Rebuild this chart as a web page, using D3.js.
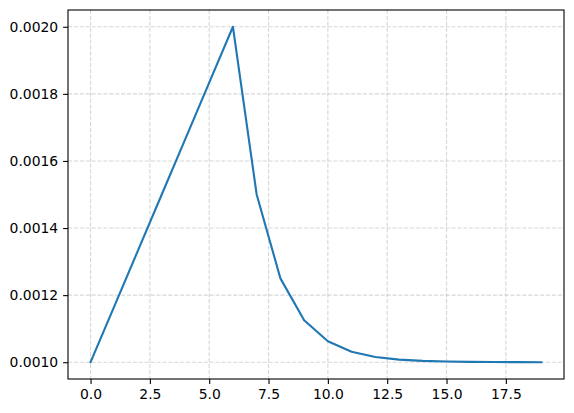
<!DOCTYPE html>
<html>
<head>
<meta charset="utf-8">
<script src="https://cdn.jsdelivr.net/npm/d3@7"></script>
<style>
  body { margin: 0; background: #fff; }
  text { font-family: "DejaVu Sans", sans-serif; }
</style>
</head>
<body>
<div id="chart"></div>
<script>
(function() {

    // values
    const steps = [0, 1, 2, 3, 4, 5, 6, 7, 8, 9, 10, 11, 12, 13, 14, 15, 16, 17, 18, 19]
    const rates = [0.001, 0.0011667, 0.0013333, 0.0015, 0.0016667, 0.0018333, 0.002,
                   0.0015, 0.00125, 0.001125, 0.0010625, 0.0010313, 0.0010156, 0.0010078,
                   0.0010039, 0.001002, 0.001001, 0.0010005, 0.0010002, 0.0010001]
    const xTicks = [0, 2.5, 5, 7.5, 10, 12.5, 15, 17.5]
    const yTicks = [0.001, 0.0012, 0.0014, 0.0016, 0.0018, 0.002]

    const W = 574, H = 413
    const margin = {top: 10, right: 10, bottom: 34, left: 68}
    let width = W - margin.left - margin.right
    let height = H - margin.top - margin.bottom

    let svg = d3.select("#chart").append("svg")
                .attr("width", W)
                .attr("height", H)
                .append("g")
                .attr("transform", "translate(" + margin.left + "," + margin.top + ")")

    let xScale = d3.scaleLinear().domain([-0.95, 19.95]).range([0, width])
    let yScale = d3.scaleLinear().domain([0.00095, 0.00205]).range([height, 0])

    // dashed grid
    let grid = svg.append("g").attr("class", "grid")
    grid.selectAll(".gx").data(xTicks).enter().append("line")
        .attr("x1", d => xScale(d)).attr("x2", d => xScale(d))
        .attr("y1", 0).attr("y2", height)
    grid.selectAll(".gy").data(yTicks).enter().append("line")
        .attr("y1", d => yScale(d)).attr("y2", d => yScale(d))
        .attr("x1", 0).attr("x2", width)
    grid.selectAll("line")
        .attr("stroke", "#b0b0b0")
        .attr("stroke-opacity", 0.5)
        .attr("stroke-width", 1.1)
        .attr("stroke-dasharray", "4.1,1.8")

    let line = d3.line()
        .x((d, i) => xScale(steps[i]))
        .y(d => yScale(d))

    svg.append("path")
        .datum(rates)
        .attr("fill", "none")
        .attr("stroke", "#1f77b4")
        .attr("stroke-width", 2.1)
        .attr("stroke-linejoin", "round")
        .attr("stroke-linecap", "square")
        .attr("d", line)

    svg.append("g")
        .attr("class", "xaxis")
        .attr("transform", "translate(0," + height + ")")
        .call(d3.axisBottom(xScale).tickValues(xTicks).tickFormat(d3.format(".1f")).tickSize(4.9).tickPadding(4.9))

    svg.append("g")
        .attr("class", "yaxis")
        .call(d3.axisLeft(yScale).tickValues(yTicks).tickFormat(d3.format(".4f")).tickSize(4.9).tickPadding(4.9))

    svg.selectAll(".xaxis .domain, .yaxis .domain").remove()
    svg.selectAll(".tick text").attr("font-size", 13.9).attr("fill", "#000")
        .style("font-family", "DejaVu Sans")
    svg.selectAll(".tick line").attr("stroke", "#000").attr("stroke-width", 1.1)

    // frame
    svg.append("rect")
        .attr("width", width).attr("height", height)
        .attr("fill", "none").attr("stroke", "#000").attr("stroke-width", 1.1)

})();
</script>
</body>
</html>
